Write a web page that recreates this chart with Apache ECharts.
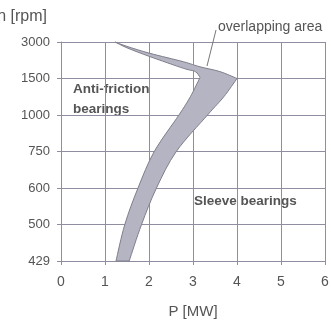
<!DOCTYPE html>
<html>
<head>
<meta charset="utf-8">
<script src="https://cdn.jsdelivr.net/npm/echarts@6/dist/echarts.min.js"></script>
<style>html,body{margin:0;padding:0;background:#fff;}#c{width:331px;height:323px;}</style>
</head>
<body>
<div id="c"></div>
<script>
// Speed categories (evenly spaced on the chart, bottom to top)
const yLabels = ['429', '500', '600', '750', '1000', '1500', '3000'];
const xTickValues = [0, 1, 2, 3, 4, 5, 6];

// Overlapping band: outer (right/upper) edge, from 429 rpm up to the 3000 rpm tip
const outerP   = [1.55, 1.83, 2.17, 2.62, 3.33, 3.70, 4.00, 3.61, 3.16, 2.78, 2.02, 1.50, 1.23];
const outerIdx = [0.00, 1.00, 2.00, 3.00, 4.00, 4.50, 5.00, 5.19, 5.32, 5.46, 5.69, 5.88, 6.00];
// Inner (left/lower) edge, from the 3000 rpm tip down to 429 rpm
const innerP   = [1.50, 2.02, 2.78, 3.05, 3.16, 2.94, 2.68, 2.12, 1.75, 1.45, 1.25];
const innerIdx = [5.84, 5.60, 5.28, 5.19, 5.03, 4.50, 4.00, 3.00, 2.00, 1.00, 0.00];

const textColor = '#555';
const gridColor = '#8e8ea0';

// Catmull-Rom spline through a chain of pixel points (rendering only)
function chainPath(pts, start) {
  let d = start ? 'M' + pts[0][0] + ' ' + pts[0][1] : '';
  for (let i = 0; i < pts.length - 1; i++) {
    const p0 = pts[Math.max(i - 1, 0)], p1 = pts[i], p2 = pts[i + 1], p3 = pts[Math.min(i + 2, pts.length - 1)];
    const c1x = p1[0] + (p2[0] - p0[0]) / 6, c1y = p1[1] + (p2[1] - p0[1]) / 6;
    const c2x = p2[0] - (p3[0] - p1[0]) / 6, c2y = p2[1] - (p3[1] - p1[1]) / 6;
    d += ' C' + c1x + ' ' + c1y + ' ' + c2x + ' ' + c2y + ' ' + p2[0] + ' ' + p2[1];
  }
  return d;
}
function argMax(a) { let k = 0; for (let i = 1; i < a.length; i++) if (a[i] > a[k]) k = i; return k; }

const chart = echarts.init(document.getElementById('c'), null, {renderer: 'canvas'});
chart.setOption({
  animation: false,
  backgroundColor: '#fff',
  grid: {left: 61, right: 6, top: 42, bottom: 62, containLabel: false, outerBoundsMode: 'none'},
  xAxis: {
    type: 'value', min: xTickValues[0], max: xTickValues[xTickValues.length - 1], interval: 1,
    name: 'P [MW]', nameLocation: 'middle', nameGap: 43,
    nameTextStyle: {color: textColor, fontSize: 15, fontFamily: 'Liberation Sans'},
    axisLine: {show: true, lineStyle: {color: gridColor, width: 1}},
    axisTick: {show: true, length: 4, lineStyle: {color: gridColor}},
    axisLabel: {color: textColor, fontSize: 14, fontFamily: 'Liberation Sans', margin: 14},
    splitLine: {show: true, lineStyle: {color: gridColor, width: 1}}
  },
  yAxis: {
    type: 'value', min: 0, max: yLabels.length - 1, interval: 1,
    axisLine: {show: true, lineStyle: {color: gridColor, width: 1}},
    axisTick: {show: true, length: 4, lineStyle: {color: gridColor}},
    axisLabel: {color: textColor, fontSize: 13, fontFamily: 'Liberation Sans', margin: 11,
      formatter: v => yLabels[v]},
    splitLine: {show: true, lineStyle: {color: gridColor, width: 1}}
  },
  series: [{
    type: 'custom',
    coordinateSystem: 'cartesian2d',
    data: [[0, 0]],
    renderItem: function (params, api) {
      const outer = outerP.map((p, i) => api.coord([p, outerIdx[i]]));
      const inner = [outer[outer.length - 1]].concat(innerP.map((p, i) => api.coord([p, innerIdx[i]])));
      const ko = argMax(outerP);
      const ki = argMax(innerP) + 1;
      let d = chainPath(outer.slice(0, ko + 1), true);
      d += chainPath(outer.slice(ko), false);
      d += chainPath(inner.slice(0, ki + 1), false);
      d += chainPath(inner.slice(ki), false);
      d += ' Z';
      return {
        type: 'path',
        shape: {pathData: d},
        style: {fill: '#b4b4c2', stroke: '#7f7f8c', lineWidth: 1}
      };
    },
    z: 3
  }],
  graphic: [
    {type: 'text', right: 331 - 47, top: 9,
      style: {text: 'n [rpm]', fill: textColor, font: '16px "Liberation Sans"'}},
    {type: 'text', left: 218, top: 20,
      style: {text: 'overlapping area', fill: textColor, font: '14px "Liberation Sans"'}},
    {type: 'line', shape: {x1: 216, y1: 30, x2: 207, y2: 66},
      style: {stroke: '#777', lineWidth: 1}, z: 10},
    {type: 'text', left: 73, top: 82,
      style: {text: 'Anti-friction', fill: textColor, font: 'bold 13.5px "Liberation Sans"'}},
    {type: 'text', left: 73, top: 102,
      style: {text: 'bearings', fill: textColor, font: 'bold 13.5px "Liberation Sans"'}},
    {type: 'text', left: 194, top: 194,
      style: {text: 'Sleeve bearings', fill: textColor, font: 'bold 13.5px "Liberation Sans"'}}
  ]
});
</script>
</body>
</html>
